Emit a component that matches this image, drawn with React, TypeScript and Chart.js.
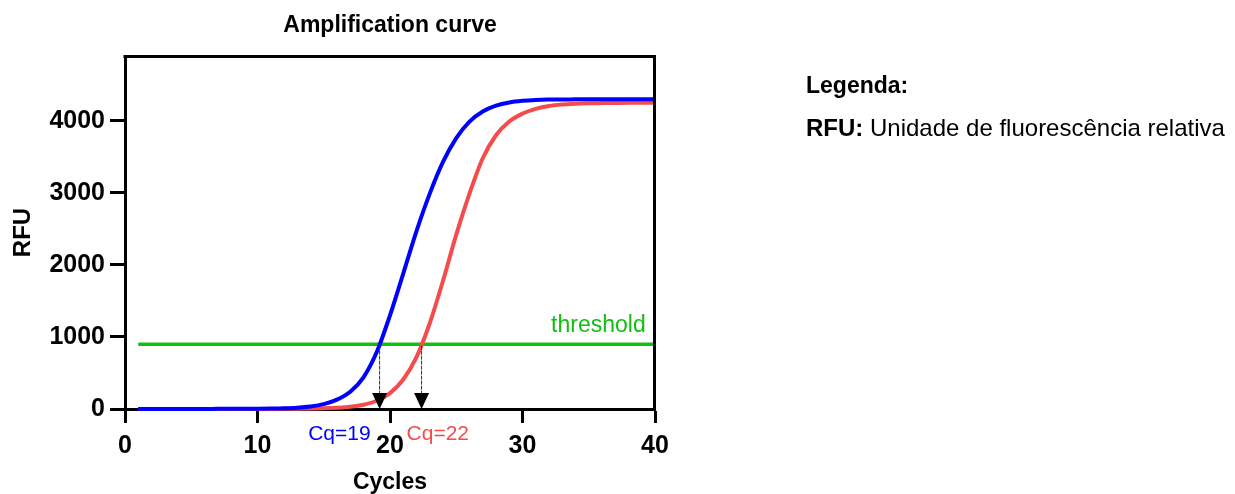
import { useEffect, useRef } from "react";
import { Chart, registerables } from "chart.js";

Chart.register(...registerables);

// PCR cycles and fluorescence readings (RFU) of the two samples
const cycles = [
  1, 2, 3, 4, 5, 6, 7, 8, 9, 10, 11, 12, 13, 14, 15, 16, 17, 18, 19, 20,
  21, 22, 23, 24, 25, 26, 27, 28, 29, 30, 31, 32, 33, 34, 35, 36, 37, 38, 39, 40,
];
const sampleEarly = [
  0, 0, 0, 1, 1, 1, 2, 2, 3, 4, 6, 10, 18, 35, 68, 130, 240, 440, 790, 1300,
  1880, 2470, 2990, 3430, 3760, 3990, 4130, 4210, 4255, 4278, 4290, 4295, 4297, 4298, 4299, 4300, 4300, 4300, 4300, 4300,
];
const sampleLate = [
  0, 0, 0, 0, 0, 0, 0, 1, 1, 1, 1, 2, 3, 6, 10, 18, 32, 60, 115, 220,
  410, 720, 1190, 1780, 2420, 2990, 3480, 3800, 3990, 4100, 4165, 4205, 4226, 4237, 4243, 4246, 4248, 4250, 4250, 4250,
];
const thresholdValue = 900;
const thresholdRange = [1, 40];
const cqLabels = ["Cq=19", "Cq=22"];
const xTicks = [0, 10, 20, 30, 40];
const yTicks = [0, 1000, 2000, 3000, 4000];

const W = 1235;
const H = 494;
const FONT = '"Liberation Sans", Arial, Helvetica, sans-serif';
const BLUE = "#0000ff";
const RED = "#f44c4c";
const GREEN = "#10bf10";

// cycle at which a curve first reaches the threshold (linear between readings)
function crossing(values: number[], thr: number): number {
  for (let i = 0; i < values.length - 1; i++) {
    if (values[i] < thr && values[i + 1] >= thr) {
      return cycles[i] + ((thr - values[i]) / (values[i + 1] - values[i])) * (cycles[i + 1] - cycles[i]);
    }
  }
  return cycles[cycles.length - 1];
}

const overlay = {
  id: "overlay",
  afterDatasetsDraw(chart: any) {
    const { ctx, chartArea: a, scales } = chart;
    const x = scales.x;
    const y = scales.y;
    ctx.save();

    // closing frame: top and right edges
    ctx.strokeStyle = "#000";
    ctx.lineWidth = 3;
    ctx.lineCap = "square";
    ctx.beginPath();
    ctx.moveTo(a.left, a.top + 0.5);
    ctx.lineTo(a.right - 0.5, a.top + 0.5);
    ctx.lineTo(a.right - 0.5, a.bottom);
    ctx.stroke();

    // Cq markers: dashed drop line and arrowhead down to the axis
    const ty = y.getPixelForValue(thresholdValue);
    const series = [
      { values: sampleEarly, color: BLUE, label: cqLabels[0], align: "right", dx: -9 },
      { values: sampleLate, color: RED, label: cqLabels[1], align: "left", dx: -15 },
    ];
    series.forEach((s) => {
      const cx = x.getPixelForValue(crossing(s.values, thresholdValue));
      const tipY = a.bottom;
      const topY = tipY - 16;
      ctx.strokeStyle = "#333";
      ctx.lineWidth = 1;
      ctx.setLineDash([3, 2]);
      ctx.beginPath();
      ctx.moveTo(cx, ty + 2);
      ctx.lineTo(cx, topY);
      ctx.stroke();
      ctx.setLineDash([]);
      ctx.fillStyle = "#000";
      ctx.beginPath();
      ctx.moveTo(cx - 7.5, topY);
      ctx.lineTo(cx + 7.5, topY);
      ctx.lineTo(cx, tipY);
      ctx.closePath();
      ctx.fill();

      ctx.fillStyle = s.color;
      ctx.font = `21px ${FONT}`;
      ctx.textAlign = s.align;
      ctx.textBaseline = "middle";
      ctx.fillText(s.label, cx + s.dx, a.bottom + 25);
    });

    // threshold label
    ctx.fillStyle = GREEN;
    ctx.font = `23px ${FONT}`;
    ctx.textAlign = "right";
    ctx.textBaseline = "alphabetic";
    ctx.fillText("threshold", x.getPixelForValue(39.3), ty - 12);

    // titles
    const midX = (a.left + a.right) / 2;
    ctx.fillStyle = "#000";
    ctx.textAlign = "center";
    ctx.textBaseline = "middle";
    ctx.font = `bold 23px ${FONT}`;
    ctx.fillText("Amplification curve", midX, 26);
    ctx.fillText("Cycles", midX, 483);
    ctx.save();
    ctx.translate(23, (a.top + a.bottom) / 2);
    ctx.rotate(-Math.PI / 2);
    ctx.font = `bold 24px ${FONT}`;
    ctx.fillText("RFU", 0, 0);
    ctx.restore();

    ctx.restore();
  },
};

export default function App() {
  const canvasRef = useRef<HTMLCanvasElement | null>(null);

  useEffect(() => {
    const canvas = canvasRef.current;
    if (!canvas) return;
    const chart = new Chart(canvas, {
      type: "line",
      data: {
        datasets: [
          {
            label: "Cq=19",
            data: cycles.map((c, i) => ({ x: c, y: sampleEarly[i] })),
            borderColor: BLUE,
            borderWidth: 4,
            pointRadius: 0,
            cubicInterpolationMode: "monotone",
            clip: false,
            order: 0,
          },
          {
            label: "Cq=22",
            data: cycles.map((c, i) => ({ x: c, y: sampleLate[i] })),
            borderColor: RED,
            borderWidth: 4,
            pointRadius: 0,
            cubicInterpolationMode: "monotone",
            clip: false,
            order: 1,
          },
          {
            label: "threshold",
            data: thresholdRange.map((c) => ({ x: c, y: thresholdValue })),
            borderColor: GREEN,
            borderWidth: 3.5,
            pointRadius: 0,
            order: 2,
          },
        ],
      },
      options: {
        responsive: false,
        animation: false,
        events: [],
        layout: { padding: { left: 0, top: 56, right: W - 655, bottom: 0 } },
        plugins: { legend: { display: false }, tooltip: { enabled: false }, title: { display: false } },
        scales: {
          x: {
            type: "linear",
            min: 0,
            max: 40,
            afterBuildTicks: (scale: any) => {
              scale.ticks = xTicks.map((v) => ({ value: v }));
            },
            afterFit: (scale: any) => {
              scale.height = H - 409;
            },
            border: { display: true, color: "#000", width: 3 },
            grid: {
              drawOnChartArea: false,
              drawTicks: true,
              tickLength: 14,
              tickWidth: 3,
              tickColor: "#000",
            },
            ticks: {
              color: "#000",
              font: { family: FONT, size: 25, weight: "bold" },
              padding: 8,
              maxRotation: 0,
              autoSkip: false,
              callback: (v: any) => String(v),
            },
          },
          y: {
            type: "linear",
            min: 0,
            max: 4900,
            afterBuildTicks: (scale: any) => {
              scale.ticks = yTicks.map((v) => ({ value: v }));
            },
            afterFit: (scale: any) => {
              scale.width = 125;
            },
            border: { display: true, color: "#000", width: 3 },
            grid: {
              drawOnChartArea: false,
              drawTicks: true,
              tickLength: 15,
              tickWidth: 3,
              tickColor: "#000",
            },
            ticks: {
              color: "#000",
              font: { family: FONT, size: 25, weight: "bold" },
              padding: 5,
              autoSkip: false,
              callback: (v: any) => String(v),
            },
          },
        },
      },
      plugins: [overlay],
    } as any);
    return () => chart.destroy();
  }, []);

  const legendText: React.CSSProperties = {
    position: "absolute",
    left: 806,
    fontFamily: FONT,
    lineHeight: "24px",
    color: "#000",
    whiteSpace: "nowrap",
  };

  return (
    <div style={{ position: "fixed", left: 0, top: 0, width: W, height: H, background: "#fff" }}>
      <canvas ref={canvasRef} width={W} height={H} style={{ position: "absolute", left: 0, top: 0 }} />
      <div style={{ ...legendText, top: 73, fontSize: 23, fontWeight: "bold" }}>Legenda:</div>
      <div style={{ ...legendText, top: 116, fontSize: 24 }}>
        <b>RFU:</b> Unidade de fluorescência relativa
      </div>
    </div>
  );
}
